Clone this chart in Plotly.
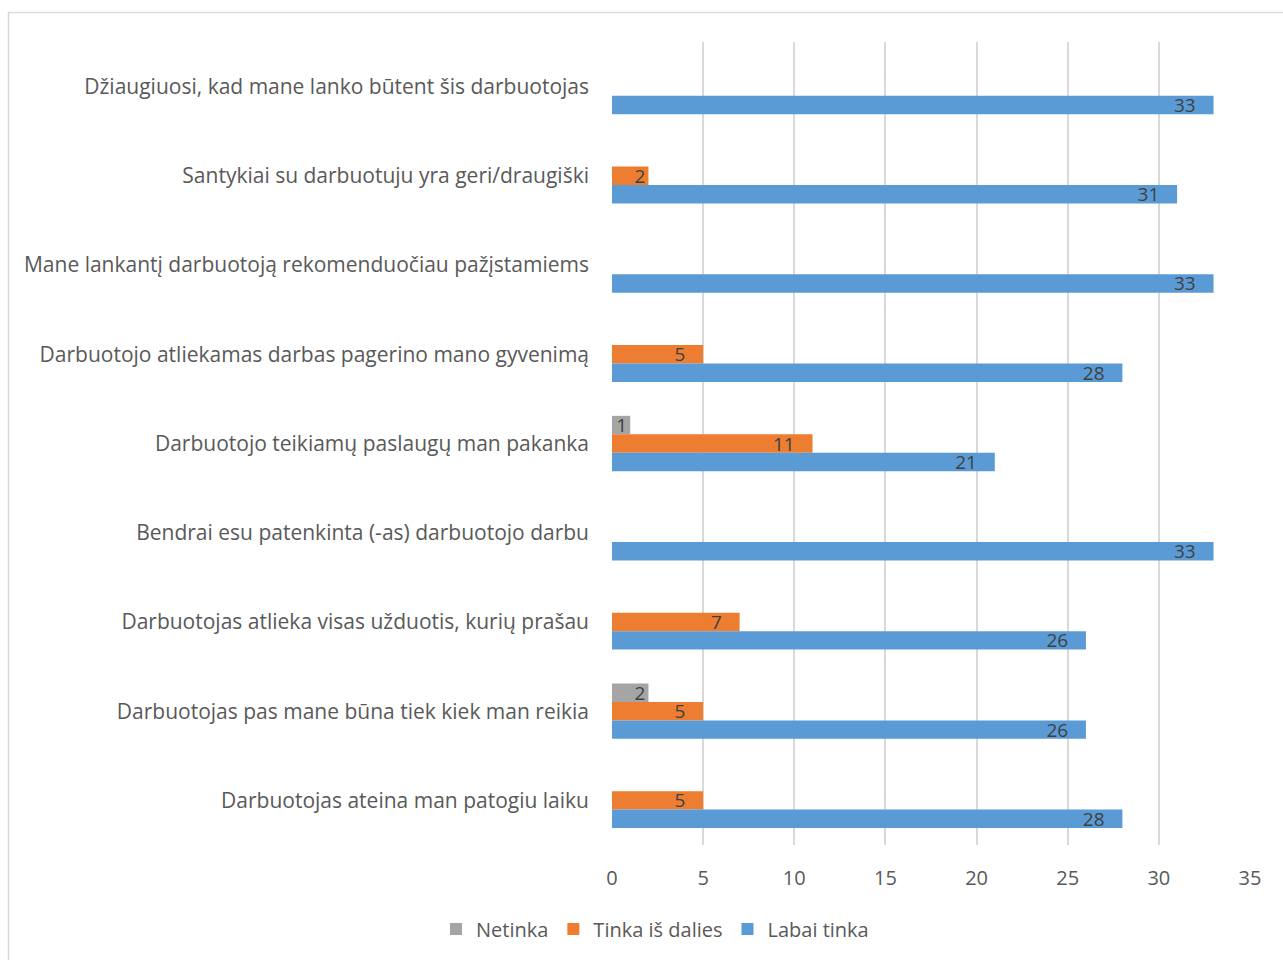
import plotly.graph_objects as go

categories = [
    "Džiaugiuosi, kad mane lanko būtent šis darbuotojas",
    "Santykiai su darbuotuju yra geri/draugiški",
    "Mane lankantį darbuotoją rekomenduočiau pažįstamiems",
    "Darbuotojo atliekamas darbas pagerino mano gyvenimą",
    "Darbuotojo teikiamų paslaugų man pakanka",
    "Bendrai esu patenkinta (-as) darbuotojo darbu",
    "Darbuotojas atlieka visas užduotis, kurių prašau",
    "Darbuotojas pas mane būna tiek kiek man reikia",
    "Darbuotojas ateina man patogiu laiku",
]
netinka = [None, None, None, None, 1, None, None, 2, None]
tinka_is_dalies = [None, 2, None, 5, 11, None, 7, 5, 5]
labai_tinka = [33, 31, 33, 28, 21, 33, 26, 26, 28]

x_ticks = [0, 5, 10, 15, 20, 25, 30, 35]

series = [
    ("Netinka", netinka, "#A5A5A5"),
    ("Tinka iš dalies", tinka_is_dalies, "#ED7D31"),
    ("Labai tinka", labai_tinka, "#5B9BD5"),
]

FONT = "'Open Sans', 'Noto Sans', sans-serif"
SIZE = 20

# plot area geometry (pixels)
M_L, M_R, M_T, M_B = 612, 33, 42, 115
PLOT_W = 1283 - M_L - M_R
PLOT_H = 960 - M_T - M_B

PAD = "\u00a0\u00a0\u00a0"  # keeps value labels a little inside the bar ends


def label(v):
    if v is None:
        return ""
    return f"{v}{PAD}" if v >= 5 else str(v)


fig = go.Figure()
for name, vals, color in series:
    fig.add_trace(go.Bar(
        y=categories,
        x=vals,
        name=name,
        orientation="h",
        marker=dict(color=color, line=dict(width=0)),
        text=[label(v) for v in vals],
        textposition="inside",
        insidetextanchor="end",
        textangle=0,
        constraintext="none",
        cliponaxis=False,
        textfont=dict(family=FONT, size=19, color="#404040"),
    ))

fig.update_layout(
    width=1283,
    height=960,
    margin=dict(l=M_L, r=M_R, t=M_T, b=M_B, autoexpand=False),
    paper_bgcolor="white",
    plot_bgcolor="white",
    barmode="group",
    bargap=0.38,
    bargroupgap=0,
    font=dict(family=FONT, size=SIZE, color="#595959"),
    xaxis=dict(
        range=[0, 35],
        tickvals=x_ticks,
        showgrid=True,
        gridcolor="#D9D9D9",
        gridwidth=2,
        zeroline=False,
        showline=False,
        ticks="",
        automargin=False,
        ticklabelstandoff=19,
        tickfont=dict(family=FONT, size=SIZE, color="#595959"),
        fixedrange=True,
    ),
    yaxis=dict(
        autorange="reversed",
        showgrid=False,
        zeroline=False,
        showline=False,
        ticks="",
        automargin=False,
        ticklabelstandoff=22,
        tickfont=dict(family=FONT, size=21, color="#595959"),
        fixedrange=True,
    ),
    legend=dict(
        orientation="h",
        x=(655 - M_L) / PLOT_W,
        xanchor="center",
        y=((960 - M_B) - 929) / PLOT_H,
        yanchor="middle",
        font=dict(family=FONT, size=SIZE, color="#595959"),
        itemwidth=30,
        traceorder="normal",
    ),
    shapes=[
        dict(
            type="rect",
            xref="paper", yref="paper",
            x0=-(M_L - 8.5) / PLOT_W, x1=1.1,
            y0=-0.2, y1=1 + (M_T - 12.5) / PLOT_H,
            line=dict(color="#D9D9D9", width=1.5),
            fillcolor="rgba(0,0,0,0)",
            layer="below",
        )
    ],
)

fig.write_html("out.html")
